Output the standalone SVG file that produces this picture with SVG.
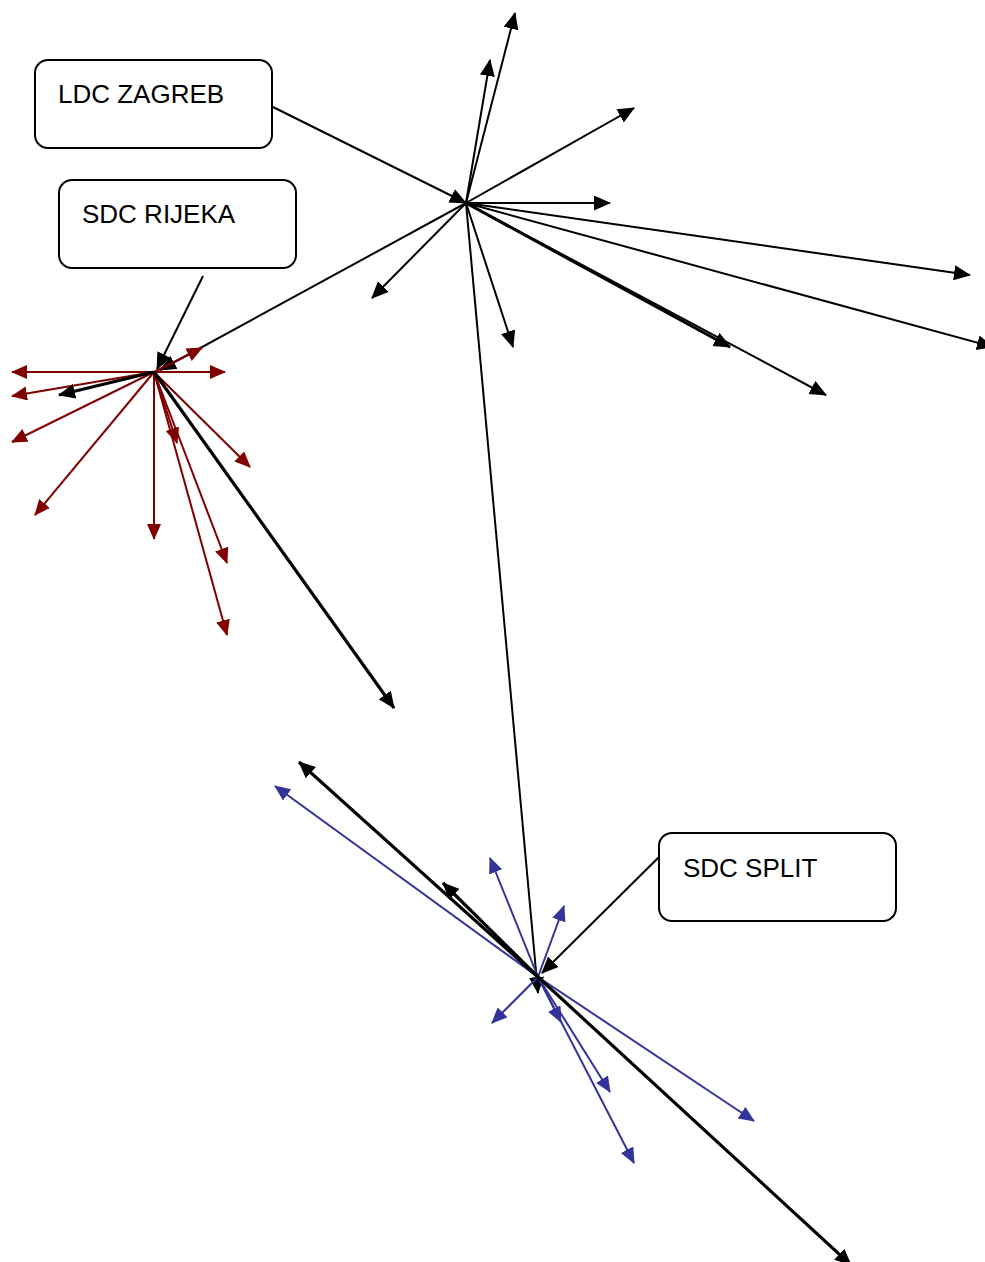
<svg xmlns="http://www.w3.org/2000/svg" width="985" height="1262" viewBox="0 0 985 1262">
<defs>
<style>
.box{fill:#fff;stroke:#000;stroke-width:2}
.lbl{font-family:"Liberation Sans",Arial,sans-serif;font-size:26px;fill:#000}
.k{stroke:#000;stroke-width:2;fill:none}
.kt{stroke:#000;stroke-width:3.2;fill:none}
.r{stroke:#800000;stroke-width:2;fill:none}
.b{stroke:#333399;stroke-width:2;fill:none}
</style>
<marker id="ak" markerUnits="userSpaceOnUse" markerWidth="19" markerHeight="17" refX="16" refY="7.5" orient="auto"><path d="M0,0 L17,7.5 L0,15 z" fill="#000"/></marker>
<marker id="ar" markerUnits="userSpaceOnUse" markerWidth="18" markerHeight="16" refX="15" refY="7" orient="auto"><path d="M0,0 L16,7 L0,14 z" fill="#800000"/></marker>
<marker id="ab" markerUnits="userSpaceOnUse" markerWidth="18" markerHeight="16" refX="15" refY="7" orient="auto"><path d="M0,0 L16,7 L0,14 z" fill="#333399"/></marker>
</defs>
<g id="connectors">
<g id="zagreb-links" class="k" marker-end="url(#ak)">
<line x1="273" y1="107" x2="466" y2="203"/>
<line x1="466" y1="203" x2="515" y2="13"/>
<line x1="466" y1="203" x2="490" y2="60"/>
<line x1="466" y1="203" x2="634" y2="108"/>
<line x1="466" y1="203" x2="610" y2="203"/>
<line x1="466" y1="203" x2="970" y2="275"/>
<line x1="466" y1="203" x2="993" y2="347"/>
<line x1="466" y1="203" x2="826" y2="395"/>
<line x1="466" y1="203" x2="730" y2="347" stroke-width="3"/>
<line x1="466" y1="203" x2="513" y2="347"/>
<line x1="466" y1="203" x2="372" y2="298"/>
<line x1="466" y1="203" x2="160" y2="370"/>
<line x1="466" y1="203" x2="538" y2="993"/>
<line x1="203" y1="276" x2="157" y2="369"/>
<line x1="659" y1="857" x2="542" y2="973"/>
</g>
<g id="rijeka-red" class="r" marker-end="url(#ar)">
<line x1="154" y1="372" x2="12" y2="372"/>
<line x1="154" y1="372" x2="225" y2="372"/>
<line x1="154" y1="372" x2="202" y2="348"/>
<line x1="154" y1="372" x2="12" y2="396"/>
<line x1="154" y1="372" x2="12" y2="442"/>
<line x1="154" y1="372" x2="35" y2="515"/>
<line x1="154" y1="372" x2="154" y2="539"/>
<line x1="154" y1="372" x2="177" y2="443"/>
<line x1="154" y1="372" x2="227" y2="563"/>
<line x1="154" y1="372" x2="250" y2="467"/>
<line x1="154" y1="372" x2="227" y2="635"/>
</g>
<g id="rijeka-black" class="kt" marker-end="url(#ak)">
<line x1="154" y1="372" x2="59" y2="395"/>
<line x1="154" y1="372" x2="394" y2="708"/>
</g>
<g id="split-blue" class="b" marker-end="url(#ab)">
<line x1="538" y1="977" x2="275" y2="786"/>
<line x1="538" y1="977" x2="490" y2="858"/>
<line x1="538" y1="977" x2="564" y2="906"/>
<line x1="538" y1="977" x2="492" y2="1023"/>
<line x1="538" y1="977" x2="561" y2="1022"/>
<line x1="538" y1="977" x2="610" y2="1092"/>
<line x1="538" y1="977" x2="634" y2="1163"/>
<line x1="538" y1="977" x2="754" y2="1121"/>
</g>
<g id="split-black" class="kt" marker-end="url(#ak)">
<line x1="538" y1="977" x2="299" y2="762"/>
<line x1="538" y1="977" x2="443" y2="883"/>
<line x1="538" y1="977" x2="851" y2="1265"/>
</g>
</g>
<g id="ldc-zagreb">
<rect class="box" x="35" y="60" width="237" height="88" rx="13"/>
<text class="lbl" x="58" y="103">LDC ZAGREB</text>
</g>
<g id="sdc-rijeka">
<rect class="box" x="59" y="180" width="237" height="88" rx="13"/>
<text class="lbl" x="82" y="223">SDC RIJEKA</text>
</g>
<g id="sdc-split">
<rect class="box" x="659" y="833" width="237" height="88" rx="13"/>
<text class="lbl" x="683" y="877">SDC SPLIT</text>
</g>
</svg>
